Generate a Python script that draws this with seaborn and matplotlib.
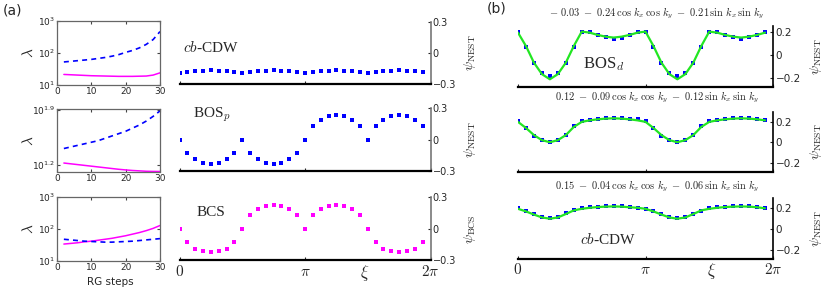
import matplotlib
matplotlib.use('Agg')
import matplotlib.pyplot as plt
import numpy as np
import seaborn as sns

sns.set_style('ticks')
plt.rcParams['font.family'] = ['DejaVu Sans']
plt.rcParams['mathtext.fontset'] = 'cm'

# RG flow of the couplings (left column of (a)), values are log10(lambda)
rg_steps = [2, 4, 6, 8, 10, 12, 14, 16, 18, 20, 22, 24, 26, 28, 30]
top_blue = [1.72, 1.74, 1.76, 1.78, 1.80, 1.83, 1.86, 1.90, 1.95, 2.02, 2.08, 2.16, 2.27, 2.42, 2.67]
top_magenta = [1.33, 1.32, 1.31, 1.30, 1.29, 1.285, 1.28, 1.275, 1.27, 1.27, 1.27, 1.275, 1.28, 1.31, 1.38]
mid_blue = [1.41, 1.43, 1.45, 1.47, 1.49, 1.51, 1.54, 1.57, 1.60, 1.63, 1.67, 1.71, 1.76, 1.82, 1.89]
mid_magenta = [1.225, 1.215, 1.205, 1.195, 1.185, 1.175, 1.165, 1.155, 1.145, 1.137, 1.13, 1.125, 1.12, 1.118, 1.117]
bot_blue = [1.67, 1.65, 1.63, 1.61, 1.60, 1.59, 1.58, 1.58, 1.59, 1.60, 1.61, 1.63, 1.65, 1.67, 1.69]
bot_magenta = [1.52, 1.54, 1.56, 1.59, 1.61, 1.64, 1.67, 1.70, 1.74, 1.78, 1.83, 1.88, 1.94, 2.01, 2.10]

# form factors along the Fermi surface, 32 points per 2pi
n_xi = 32
xi = np.arange(n_xi) * 2 * np.pi / n_xi
cbcdw_a = [-0.19, -0.186, -0.178, -0.172, -0.168, -0.172, -0.178, -0.186] * 4
bosp_a = [0.0, -0.13, -0.19, -0.22, -0.23, -0.22, -0.19, -0.13,
          0.0, -0.13, -0.19, -0.22, -0.23, -0.22, -0.19, -0.13,
          0.0, 0.13, 0.19, 0.22, 0.23, 0.22, 0.19, 0.13,
          0.0, 0.13, 0.19, 0.22, 0.23, 0.22, 0.19, 0.13]
bcs_a = [0.0, -0.13, -0.19, -0.21, -0.22, -0.21, -0.19, -0.13,
         0.0, 0.13, 0.19, 0.22, 0.23, 0.22, 0.19, 0.13,
         0.0, 0.13, 0.19, 0.22, 0.23, 0.22, 0.19, 0.13,
         0.0, -0.13, -0.19, -0.21, -0.22, -0.21, -0.19, -0.13]

bosd_pts = [0.206, 0.076, -0.072, -0.157, -0.185, -0.157, -0.072, 0.076,
            0.206, 0.206, 0.177, 0.16, 0.145, 0.15, 0.177, 0.206,
            0.206, 0.076, -0.072, -0.157, -0.185, -0.157, -0.072, 0.076,
            0.206, 0.206, 0.177, 0.16, 0.145, 0.155, 0.177, 0.206]
bosd_fit = [0.197, 0.08, -0.065, -0.165, -0.21, -0.165, -0.065, 0.08,
            0.206, 0.197, 0.177, 0.162, 0.154, 0.162, 0.177, 0.197,
            0.206, 0.08, -0.065, -0.165, -0.21, -0.165, -0.065, 0.08,
            0.206, 0.197, 0.177, 0.162, 0.154, 0.162, 0.177, 0.197]
mid_pts = [0.207, 0.137, 0.064, 0.019, 0.0, 0.019, 0.073, 0.159,
           0.21, 0.222, 0.232, 0.238, 0.241, 0.238, 0.232, 0.225,
           0.21, 0.137, 0.064, 0.019, 0.0, 0.019, 0.073, 0.159,
           0.21, 0.222, 0.232, 0.238, 0.241, 0.238, 0.232, 0.215]
mid_fit = [0.2, 0.14, 0.07, 0.02, 0.0, 0.02, 0.07, 0.15,
           0.2, 0.215, 0.225, 0.232, 0.235, 0.232, 0.225, 0.215,
           0.2, 0.14, 0.07, 0.02, 0.0, 0.02, 0.07, 0.15,
           0.2, 0.215, 0.225, 0.232, 0.235, 0.232, 0.225, 0.215]
cdw_pts = [0.2, 0.174, 0.143, 0.114, 0.105, 0.114, 0.152, 0.184,
           0.2, 0.21, 0.215, 0.218, 0.22, 0.218, 0.215, 0.207,
           0.197, 0.178, 0.143, 0.114, 0.102, 0.114, 0.143, 0.178,
           0.2, 0.21, 0.215, 0.218, 0.222, 0.218, 0.212, 0.2]
cdw_fit = [0.195, 0.17, 0.14, 0.112, 0.1, 0.112, 0.145, 0.18,
           0.195, 0.205, 0.212, 0.216, 0.218, 0.216, 0.21, 0.205,
           0.195, 0.17, 0.14, 0.112, 0.1, 0.112, 0.145, 0.18,
           0.195, 0.205, 0.212, 0.216, 0.218, 0.216, 0.21, 0.2]

fit_titles = [r'$-\ 0.03\ -\ 0.24\,\cos\,k_x\,\cos\,k_y\ -\ 0.21\,\sin\,k_x\,\sin\,k_y$',
              r'$0.12\ -\ 0.09\,\cos\,k_x\,\cos\,k_y\ -\ 0.12\,\sin\,k_x\,\sin\,k_y$',
              r'$0.15\ -\ 0.04\,\cos\,k_x\,\cos\,k_y\ -\ 0.06\,\sin\,k_x\,\sin\,k_y$']

BLUE = '#0000ff'
MAG = '#ff00ff'
GREEN = '#22e622'
W, H = 830, 290


def px_axes(fig, x0, y0, x1, y1):
    # rectangle given in pixel coords (y from top)
    return fig.add_axes([x0 / W, 1 - y1 / H, (x1 - x0) / W, (y1 - y0) / H])


fig = plt.figure(figsize=(8.3, 2.9), dpi=100)

# ---------- (a) left column: RG flow ----------
rg_rows = [(21, 85, top_blue, top_magenta, (1, 3)),
           (109.3, 171.5, mid_blue, mid_magenta, (1.117, 1.91)),
           (196.7, 260.7, bot_blue, bot_magenta, (1, 3))]
for i, (y0, y1, b, m, lim) in enumerate(rg_rows):
    ax = px_axes(fig, 57, y0, 160, y1)
    sns.lineplot(x=rg_steps, y=10 ** np.array(m), color=MAG, lw=1.1, ax=ax)
    sns.lineplot(x=rg_steps, y=10 ** np.array(b), color=BLUE, lw=1.2, linestyle=(0, (3, 2.5)), ax=ax)
    ax.set_yscale('log')
    ax.set_xlim(0, 30)
    ax.set_ylim(10 ** lim[0], 10 ** lim[1])
    ax.set_xticks([0, 10, 20, 30])
    ax.minorticks_off()
    if i == 1:
        ax.set_yticks([10 ** 1.2, 10 ** 1.9])
        ax.set_yticklabels([r'$\mathdefault{10^{1.2}}$', r'$\mathdefault{10^{1.9}}$'])
    else:
        ax.set_yticks([10, 100, 1000])
        ax.set_yticklabels([r'$\mathdefault{10^{1}}$', r'$\mathdefault{10^{2}}$', r'$\mathdefault{10^{3}}$'])
    ax.tick_params(direction='in', length=2, labelsize=6.5, pad=1.5, top=True, right=True, color='#444444')
    for s in ax.spines.values():
        s.set_color('#666666')
        s.set_linewidth(0.9)
    fig.text(28 / W, 1 - (y0 + y1) / 2 / H, r'$\lambda$', rotation=90, fontsize=11, ha='center', va='center')
fig.text(110 / W, 1 - 282 / H, 'RG steps', fontsize=7.5, ha='center', va='center')

# ---------- (a) middle column: form factors ----------
mid_rows = [(22, 84, cbcdw_a, BLUE, r'$\psi_{\rm NEST}$'),
            (108, 171, bosp_a, BLUE, r'$\psi_{\rm NEST}$'),
            (197.3, 260.3, bcs_a, MAG, r'$\psi_{\rm BCS}$')]
for i, (y0, y1, vals, col, lab) in enumerate(mid_rows):
    ax = px_axes(fig, 179.5, y0, 430.5, y1)
    sns.scatterplot(x=xi, y=vals, marker='s', s=7, color=col, linewidth=0, ax=ax)
    ax.set_xlim(0, 2 * np.pi)
    ax.set_ylim(-0.3, 0.3)
    sns.despine(ax=ax, left=True, top=True, right=False)
    ax.spines['bottom'].set_linewidth(1.6)
    ax.spines['bottom'].set_color('black')
    ax.spines['right'].set_color('#777777')
    ax.spines['right'].set_linewidth(1.2)
    ax.yaxis.tick_right()
    ax.yaxis.set_label_position('right')
    ax.set_yticks([-0.3, 0, 0.3])
    ax.set_yticklabels(['\u22120.3', '0', '0.3'])
    ax.set_xticks([0, np.pi, 2 * np.pi])
    ax.tick_params(direction='in', length=2.5, labelsize=7, pad=1.5)
    ax.set_ylabel(lab, fontsize=10, labelpad=4, rotation=90)
    if i == 2:
        ax.set_xticklabels([r'$0$', r'$\pi$', r'$2\pi$'], fontsize=11)
        ax.tick_params(axis='x', pad=2.5)
    else:
        ax.set_xticklabels([])

fig.text(183 / W, 1 - 47 / H, r'$cb$-CDW', fontsize=11, family='Liberation Serif', va='center')
fig.text(193 / W, 1 - 115 / H, r'BOS$_p$', fontsize=11, family='Liberation Serif', va='center')
fig.text(197 / W, 1 - 213 / H, 'BCS', fontsize=11, family='Liberation Serif', va='center')
fig.text(365 / W, 1 - 273 / H, r'$\xi$', fontsize=12, ha='center', va='center')

# ---------- (b) form factors with fits ----------
b_rows = [(26, 87.3, bosd_pts, bosd_fit, (-0.28, 0.255), 13),
          (111.7, 171.7, mid_pts, mid_fit, (-0.29, 0.3), 97),
          (198.3, 259, cdw_pts, cdw_fit, (-0.287, 0.296), 186)]
for i, (y0, y1, pts, fit, lim, ty) in enumerate(b_rows):
    ax = px_axes(fig, 518, y0, 773, y1)
    sns.scatterplot(x=xi, y=pts, marker='s', s=11, color=BLUE, linewidth=0, ax=ax, zorder=2)
    sns.lineplot(x=xi, y=fit, color=GREEN, lw=1.6, ax=ax, zorder=3)
    ax.set_xlim(0, 2 * np.pi)
    ax.set_ylim(*lim)
    sns.despine(ax=ax, left=True, top=True, right=False)
    ax.spines['bottom'].set_linewidth(1.6)
    ax.spines['bottom'].set_color('black')
    ax.spines['right'].set_color('black')
    ax.spines['right'].set_linewidth(1.2)
    ax.yaxis.tick_right()
    ax.yaxis.set_label_position('right')
    ax.set_yticks([-0.2, 0, 0.2])
    ax.set_yticklabels(['\u22120.2', '0', '0.2'])
    ax.set_xticks([0, np.pi, 2 * np.pi])
    ax.tick_params(direction='in', length=2.5, labelsize=7.5, pad=2)
    ax.set_ylabel(r'$\psi_{\rm NEST}$', fontsize=10, labelpad=5, rotation=90)
    if i == 2:
        ax.set_xticklabels([r'$0$', r'$\pi$', r'$2\pi$'], fontsize=11)
        ax.tick_params(axis='x', pad=2)
    else:
        ax.set_xticklabels([])
    fig.text(657 / W, 1 - ty / H, fit_titles[i], fontsize=7.5, ha='center', va='center')

fig.text(583 / W, 1 - 64 / H, r'BOS$_d$', fontsize=12, family='Liberation Serif', va='center')
fig.text(580 / W, 1 - 239 / H, r'$cb$-CDW', fontsize=11, family='Liberation Serif', va='center')
fig.text(712 / W, 1 - 271 / H, r'$\xi$', fontsize=12, ha='center', va='center')

fig.text(12 / W, 1 - 10 / H, '(a)', fontsize=10, ha='center', va='center')
fig.text(497 / W, 1 - 9 / H, '(b)', fontsize=10, ha='center', va='center')

fig.savefig('out.png', dpi=100)
